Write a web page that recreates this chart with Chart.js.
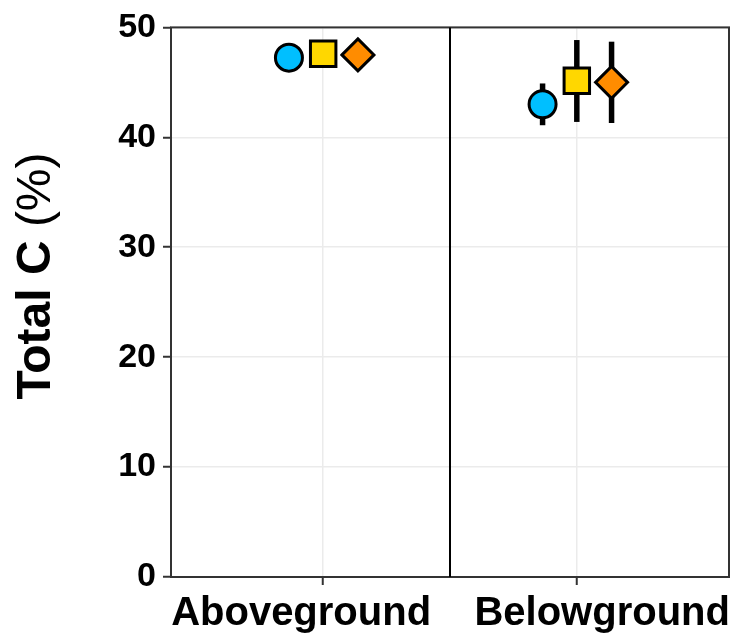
<!DOCTYPE html>
<html>
<head>
<meta charset="utf-8">
<script src="https://cdn.jsdelivr.net/npm/chart.js@4.4.1/dist/chart.umd.min.js"></script>
<style>
  html, body { margin: 0; padding: 0; background: #fff; overflow: hidden; }
  #wrap { width: 731px; height: 636px; position: relative; overflow: hidden; }
  #chart { display: block; }
</style>
</head>
<body>
<div id="wrap"><canvas id="chart"></canvas></div>
<script>
/* categories and series */
const categories   = ['Aboveground', 'Belowground'];
const seriesNames  = ['Group 1', 'Group 2', 'Group 3'];
const seriesColors = ['#00BFFF', '#FFD700', '#FF8C00'];
const seriesShapes = ['circle', 'rect', 'rectRot'];

/* mean and error-bar ends, one value per category */
const meanG1 = [47.25, 43.0];
const lowG1  = [46.9, 41.1];
const highG1 = [47.6, 44.9];

const meanG2 = [47.6, 45.15];
const lowG2  = [47.3, 41.4];
const highG2 = [47.9, 48.85];

const meanG3 = [47.5, 45.0];
const lowG3  = [47.2, 41.3];
const highG3 = [47.8, 48.7];

const yTicks = [0, 10, 20, 30, 40, 50];

const means = [meanG1, meanG2, meanG3];
const lows  = [lowG1, lowG2, lowG3];
const highs = [highG1, highG2, highG3];

const DODGE   = [-0.135, 0, 0.137];  /* dodge offset around each category */
const RADIUS  = [13.5, 18, 16];
const LABEL_X = [0.913, 2.10];       /* where the category labels sit (they are off-centre in the original) */
const FONT    = '"Liberation Sans", Arial, Helvetica, sans-serif';

/* categories sit at x = 1, 2 on a linear axis (ggplot-style discrete expansion) */
const catX = i => i + 1;

const datasets = seriesNames.map((name, j) => ({
  label: name,
  xAxisID: 'x',
  data: categories.map((c, i) => ({ x: catX(i) + DODGE[j], y: means[j][i] })),
  pointStyle: seriesShapes[j],
  pointRadius: RADIUS[j],
  pointHoverRadius: RADIUS[j],
  backgroundColor: seriesColors[j],
  borderColor: '#000',
  pointBorderWidth: 3,
  showLine: false,
}));

/* error bars, panel frame, separator line, y title */
const decor = {
  id: 'decor',
  beforeDatasetsDraw(chart) {
    const { ctx, chartArea: a, scales: { x, y } } = chart;
    ctx.save();
    ctx.strokeStyle = '#333';
    ctx.lineWidth = 2;
    ctx.strokeRect(a.left, a.top, a.right - a.left, a.bottom - a.top);
    ctx.strokeStyle = '#000';
    ctx.beginPath();
    const xd = x.getPixelForValue(1.5);
    ctx.moveTo(xd, a.top);
    ctx.lineTo(xd, a.bottom);
    ctx.stroke();

    ctx.lineWidth = 5.5;
    ctx.lineCap = 'butt';
    seriesNames.forEach((n, j) => {
      categories.forEach((c, i) => {
        const px = x.getPixelForValue(catX(i) + DODGE[j]);
        ctx.beginPath();
        ctx.moveTo(px, y.getPixelForValue(lows[j][i]));
        ctx.lineTo(px, y.getPixelForValue(highs[j][i]));
        ctx.stroke();
      });
    });
    ctx.restore();
  },
  afterDraw(chart) {
    const ctx = chart.ctx;
    ctx.save();
    ctx.translate(50, 276);
    ctx.rotate(-Math.PI / 2);
    ctx.fillStyle = '#000';
    ctx.textBaseline = 'alphabetic';
    const boldFont = 'bold 48px ' + FONT;
    const normFont = '48px ' + FONT;
    ctx.font = boldFont;
    const w1 = ctx.measureText('Total C ').width;
    ctx.font = normFont;
    const w2 = ctx.measureText('(%)').width;
    const x0 = -(w1 + w2) / 2;
    ctx.font = boldFont;
    ctx.fillText('Total C ', x0, 0);
    ctx.font = normFont;
    ctx.fillText('(%)', x0 + w1, 0);
    ctx.restore();
  }
};

new Chart(document.getElementById('chart'), {
  type: 'scatter',
  data: { datasets },
  options: {
    animation: false,
    responsive: true,
    maintainAspectRatio: false,
    layout: { autoPadding: false, padding: { top: 24, right: 2, left: 0, bottom: 0 } },
    plugins: {
      legend: { display: false },
      tooltip: { enabled: false },
    },
    scales: {
      x: {
        type: 'linear',
        position: 'bottom',
        min: 0.4, max: 2.6,
        afterBuildTicks: s => { s.ticks = categories.map((c, i) => ({ value: catX(i) })); },
        afterFit: s => { s.height = 8; },
        border: { display: false },
        grid: { color: '#ebebeb', lineWidth: 1.5, tickColor: '#333', tickWidth: 2, tickLength: 8 },
        ticks: { display: false },
      },
      xl: {
        type: 'linear',
        position: 'bottom',
        min: 0.4, max: 2.6,
        afterBuildTicks: s => { s.ticks = LABEL_X.map(v => ({ value: v })); },
        afterFit: s => { s.height = 51; s.paddingLeft = 0; s.paddingRight = 0; },
        border: { display: false },
        grid: { display: false, drawTicks: false },
        ticks: {
          color: '#000',
          padding: 5,
          maxRotation: 0,
          font: { family: FONT, size: 40, weight: 'bold' },
          callback: (v, idx) => categories[idx],
        },
      },
      y: {
        min: 0, max: 50,
        afterBuildTicks: s => { s.ticks = yTicks.map(v => ({ value: v })); },
        afterFit: s => { s.width = 171; },
        border: { display: false },
        grid: { color: '#ebebeb', lineWidth: 1.5, tickColor: '#333', tickWidth: 2, tickLength: 8 },
        ticks: {
          color: '#000',
          padding: 7,
          font: { family: FONT, size: 34, weight: 'bold' },
        },
      },
    },
  },
  plugins: [decor],
});
</script>
</body>
</html>
